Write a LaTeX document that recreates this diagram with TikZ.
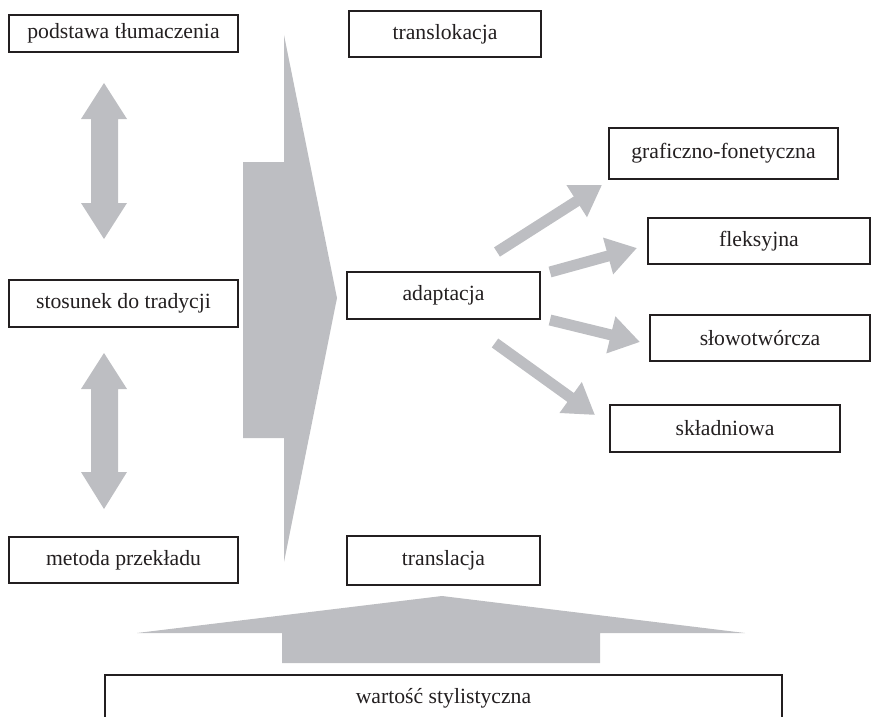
\documentclass[tikz,border=0pt]{standalone}
\usepackage{fontspec}
\setmainfont{Liberation Serif}
\usetikzlibrary{arrows.meta}
\definecolor{arrowgray}{RGB}{189,190,194}
\definecolor{boxline}{RGB}{35,31,32}
\begin{document}
\begin{tikzpicture}[x=1pt,y=-1pt,
  box/.style={draw=boxline,line width=2pt,fill=white,inner sep=0pt,
    font=\fontsize{21.7}{26}\selectfont,text=boxline},
  bigshape/.style={fill=arrowgray,draw=none},
  thickarrow/.style={draw=arrowgray,line width=11pt,
    -{Triangle[length=30pt,width=36pt]}}]
\useasboundingbox (0,0) rectangle (873,717);

% big right-pointing arrow
\fill[bigshape] (284,35) -- (337,298) -- (284,562) -- (284,438) -- (243,438)
  -- (243,162) -- (284,162) -- cycle;

% bottom upward arrow
\fill[bigshape] (442,596) -- (745,633) -- (600,633) -- (600,663) -- (282,663)
  -- (282,633) -- (137,633) -- cycle;

% double arrows
\fill[bigshape] (104,83) -- (127,119) -- (118,119) -- (118,203) -- (127,203)
  -- (104,239) -- (81,203) -- (91,203) -- (91,119) -- (81,119) -- cycle;
\fill[bigshape] (104,353) -- (127,389) -- (118,389) -- (118,472) -- (127,472)
  -- (104,509) -- (81,472) -- (91,472) -- (91,389) -- (81,389) -- cycle;

% boxes
\node[box,minimum width=229pt,minimum height=37pt] (podstawa) at (123.5,33.5) {podstawa tłumaczenia};
\node[box,minimum width=192pt,minimum height=46pt] (translokacja) at (445,34) {translokacja};
\node[box,minimum width=193pt,minimum height=47pt] (adaptacja) at (443.5,295.5) {adaptacja};
\node[box,minimum width=229pt,minimum height=51pt] (graficzno) at (723.5,153.5) {graficzno-fonetyczna};
\node[box,minimum width=222pt,minimum height=46pt] (fleksyjna) at (759,241) {fleksyjna};
\node[box,minimum width=220pt,minimum height=46pt] (slowo) at (760,338) {słowotwórcza};
\node[box,minimum width=230pt,minimum height=47pt] (skladniowa) at (725,428.5) {składniowa};
\node[box,minimum width=229pt,minimum height=47pt] (stosunek) at (123.5,303.5) {stosunek do tradycji};
\node[box,minimum width=229pt,minimum height=46pt] (metoda) at (123.5,560) {metoda przekładu};
\node[box,minimum width=193pt,minimum height=49pt] (translacja) at (443.5,560.5) {translacja};
\node[box,minimum width=677pt,minimum height=46pt] (wartosc) at (443.5,698) {wartość stylistyczna};

% arrows from adaptacja
\coordinate (t1) at (497,252); \coordinate (h1) at (602,185);
\coordinate (t2) at (550,272); \coordinate (h2) at (637,248);
\coordinate (t3) at (550,320); \coordinate (h3) at (640,342);
\coordinate (t4) at (495,343); \coordinate (h4) at (595,415);
\draw[thickarrow] (t1) -- (h1);
\draw[thickarrow] (t2) -- (h2);
\draw[thickarrow] (t3) -- (h3);
\draw[thickarrow] (t4) -- (h4);
\end{tikzpicture}
\end{document}
